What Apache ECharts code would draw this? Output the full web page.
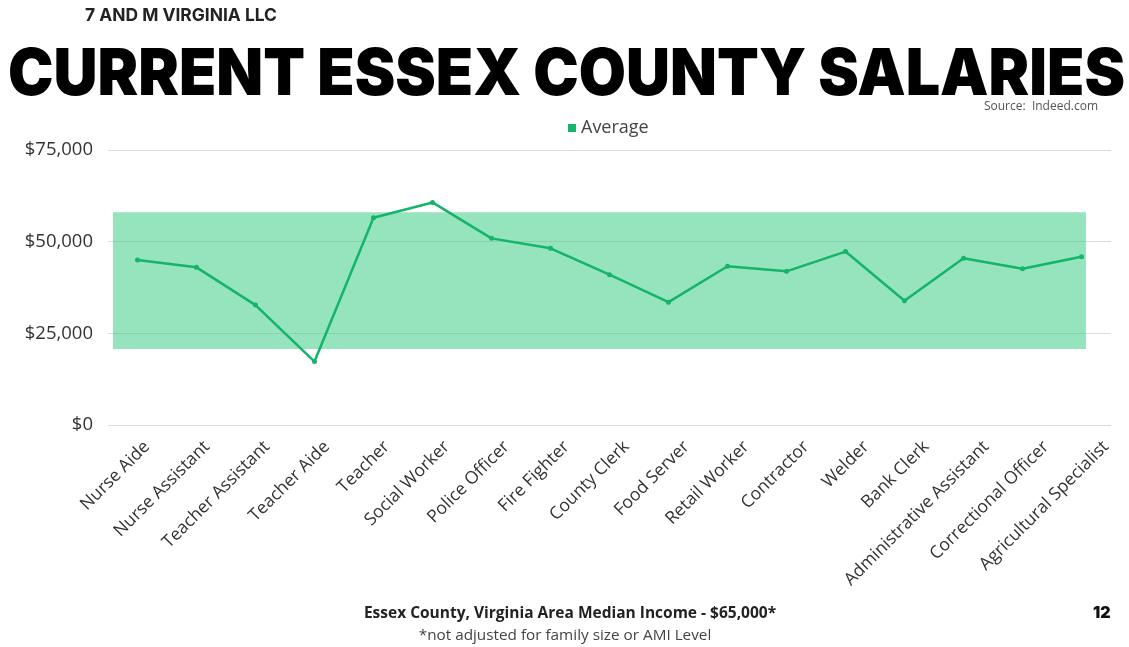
<!DOCTYPE html>
<html>
<head>
<meta charset="utf-8">
<script src="https://cdn.jsdelivr.net/npm/echarts@6/dist/echarts.min.js"></script>
<style>html,body{margin:0;padding:0;background:#fff;}#c{width:1129px;height:647px;}</style>
</head>
<body>
<div id="c"></div>
<script>
const categories = ["Nurse Aide","Nurse Assistant","Teacher Assistant","Teacher Aide","Teacher","Social Worker","Police Officer","Fire Fighter","County Clerk","Food Server","Retail Worker","Contractor","Welder","Bank Clerk","Administrative Assistant","Correctional Officer","Agricultural Specialist"];
const averageSalaries = [45000,43000,32700,17300,56500,60700,50900,48200,41000,33500,43300,41900,47300,33900,45500,42600,45900];
const bandRange = [20700, 58000];
const yTicks = [0, 25000, 50000, 75000];
const seriesName = "Average";
const titleText = 'CURRENT ESSEX COUNTY SALARIES';

// fit the headline to the page width
const titleFont = '900 65px Inter';
const mctx = document.createElement('canvas').getContext('2d');
mctx.font = titleFont;
const titleScale = 1117 / mctx.measureText(titleText).width;

const chart = echarts.init(document.getElementById('c'), null, {renderer:'canvas'});
const green = '#15b46b';
const option = {
  backgroundColor:'#fff',
  animation:false,
  legend:{
    data:[{name:seriesName, icon:'rect'}],
    top:114, left:563,
    itemWidth:8, itemHeight:8, itemGap:7,
    textStyle:{fontFamily:'Open Sans', fontSize:18, color:'#444'}
  },
  grid:[
    {left:108, right:18, top:150, bottom:222, containLabel:false},
    {left:147, right:23, top:150, bottom:222, containLabel:false}
  ],
  xAxis:[{
    type:'category', data:categories, boundaryGap:true, gridIndex:0,
    axisLine:{show:false}, axisTick:{show:false}, axisLabel:{show:false}
  },{
    type:'value', min:0, max:1, show:false, gridIndex:0
  },{
    type:'category', data:categories, boundaryGap:false, gridIndex:1,
    axisLine:{show:false}, axisTick:{show:false}, splitLine:{show:false},
    axisLabel:{rotate:45, interval:0, margin:19, fontFamily:'Open Sans', fontSize:17.5, color:'#333'}
  }],
  yAxis:[{
    type:'value', gridIndex:0, min:yTicks[0], max:yTicks[yTicks.length-1], interval:yTicks[1]-yTicks[0],
    axisLine:{show:false}, axisTick:{show:false},
    splitLine:{lineStyle:{color:'#dcdcdc', width:1}},
    axisLabel:{margin:15, fontFamily:'Open Sans', fontSize:18.5, color:'#333',
      formatter:v=>'$'+v.toLocaleString('en-US')}
  },{
    type:'value', gridIndex:1, min:0, max:1, show:false
  }],
  series:[{
    name:'band', type:'line', xAxisIndex:1, yAxisIndex:0, data:[[0,bandRange[0]]], showSymbol:false, silent:true,
    lineStyle:{opacity:0}, itemStyle:{opacity:0}, legendHoverLink:false,
    markArea:{silent:true, itemStyle:{color:'rgba(44,201,124,0.5)'},
      data:[[{coord:[0.005,bandRange[0]]},{coord:[0.975,bandRange[1]]}]]}
  },{
    name:seriesName, type:'line', xAxisIndex:0, yAxisIndex:0, data:averageSalaries, symbol:'circle', symbolSize:5,
    lineStyle:{color:green, width:2.5}, itemStyle:{color:green}, z:3
  }],
  graphic:[
    {type:'text', left:85, top:7, style:{text:'7 AND M VIRGINIA LLC', font:'bold 17.4px Inter', fill:'#222'}},
    {type:'text', x:8, y:43, scaleX:titleScale, style:{text:titleText, font:titleFont, fill:'#000', textVerticalAlign:'top'}},
    {type:'text', right:31, top:101, style:{text:'Source:  Indeed.com', font:'12px "Open Sans"', fill:'#555'}},
    {type:'text', x:570, y:606, style:{text:'Essex County, Virginia Area Median Income - $65,000*', font:'bold 15.5px "Open Sans"', fill:'#222', textAlign:'center'}},
    {type:'text', x:565, y:628, style:{text:'*not adjusted for family size or AMI Level', font:'15.3px "Open Sans"', fill:'#444', textAlign:'center'}},
    {type:'text', x:1093, y:605, style:{text:'12', font:'900 16px Inter', fill:'#111'}}
  ]
};
chart.setOption(option);
</script>
</body>
</html>
